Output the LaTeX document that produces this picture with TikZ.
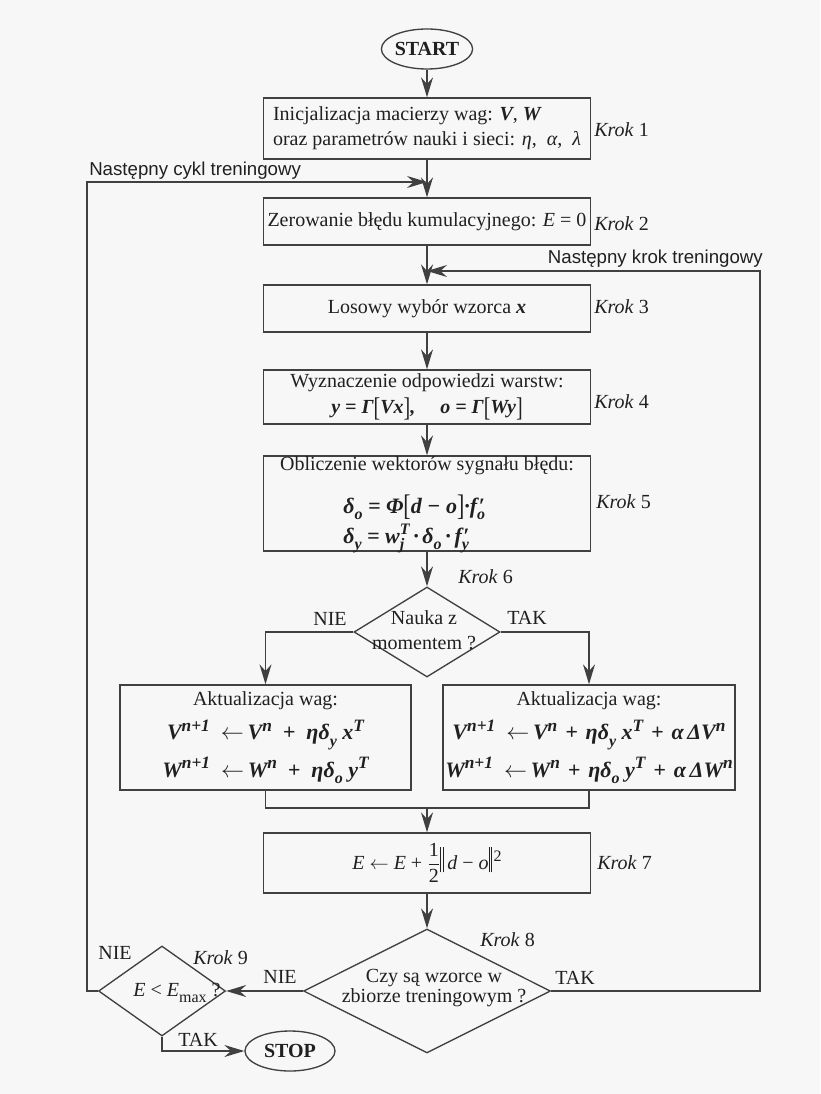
\documentclass[tikz,border=0pt]{standalone}
\usepackage{fontspec}
\usepackage{amsmath}
\usepackage{graphicx}
\setmainfont{Liberation Serif}
\newfontfamily\labelsans{Liberation Sans}
\usetikzlibrary{arrows.meta,shapes.geometric}

\definecolor{bgc}{HTML}{F7F7F7}
\definecolor{lnc}{HTML}{404040}
\definecolor{txc}{HTML}{202020}

% text sizes and small helpers for formulas set in the text font
\newcommand\bodyfont{\fontsize{15}{18.75}\selectfont}
\newcommand\SupT[1]{\raisebox{0.85ex}{\fontsize{12}{12}\selectfont #1}}
\newcommand\SupL[1]{\raisebox{0.8ex}{\fontsize{13}{13}\selectfont #1}}
\newcommand\SubT[1]{\raisebox{-0.6ex}{\fontsize{12}{12}\selectfont #1}}
\newcommand\SubSupT[2]{\setbox0\hbox{\SupT{#2}}\setbox2\hbox{\SubT{#1}}%
  \ifdim\wd0>\wd2 \rlap{\box2}\box0\else\rlap{\box0}\box2\fi}
\newcommand\PrSub[1]{\setbox0\hbox{\kern1pt′}\setbox2\hbox{\SubT{#1}}%
  \ifdim\wd0>\wd2 \rlap{\box2}\box0\else\rlap{\box0}\box2\fi}
\newcommand\BrL{{\mdseries\upshape\raisebox{-0.25ex}{\scalebox{1}[1.35]{[}}}}
\newcommand\BrR{{\mdseries\upshape\raisebox{-0.25ex}{\scalebox{1}[1.35]{]}}}}
\newcommand\Nrm{\rule[-0.3ex]{0.7pt}{2.7ex}\kern1.3pt\rule[-0.3ex]{0.7pt}{2.7ex}}
\newcommand\BI[1]{{\bfseries\itshape #1}}
\newcommand\BIL[1]{{\fontsize{16.5}{18.75}\selectfont\bfseries\itshape #1}}
\newcommand\LArr{\enspace$\leftarrow$\,}
\newcommand\Pl{\enspace+\enspace}
\newcommand\PlN{\hspace{0.36em}+\hspace{0.36em}}

\tikzset{
  flow/.style={draw=lnc, line width=1pt, line join=miter},
  arr/.style={flow, -{Stealth[length=15pt,width=9pt,inset=5pt]}},
  stepbox/.style={draw=lnc, line width=1pt, rectangle, inner sep=0pt,
    minimum width=245.25pt, align=center, text=txc, font=\bodyfont},
  term/.style={draw=lnc, line width=1pt, ellipse, inner sep=0pt,
    minimum width=67.5pt, minimum height=30pt, text=txc,
    font=\bodyfont\bfseries},
  decision/.style={draw=lnc, line width=1pt, diamond, inner sep=0pt},
  lbl/.style={text=txc, font=\bodyfont, inner sep=0pt},
  looplbl/.style={text=txc, font=\labelsans\fontsize{14}{16}\selectfont, inner sep=0pt}
}

\begin{document}
\begin{tikzpicture}[x=0.75pt,y=-0.75pt]
\fill[bgc] (0,0) rectangle (820,1094);
\useasboundingbox (0,0) rectangle (820,1094);

% terminals
\node[term] (start) at (427,49) {START};
\node[term] (stop) at (290,1051) {STOP};

% main column of steps
\node[stepbox, minimum height=45.75pt, align=left] (box1) at (427,128.5)
  {Inicjalizacja macierzy wag: \BI{V}, \BI{W}\\oraz parametrów nauki i sieci: \textit{η},\enspace\textit{α},\enspace\textit{λ}};
\node[stepbox, minimum height=35.25pt] (box2) at (427,221.5)
  {Zerowanie błędu kumulacyjnego: \textit{E} = 0};
\node[stepbox, minimum height=35.25pt] (box3) at (427,308.5)
  {Losowy wybór wzorca \BI{x}};
\node[stepbox, minimum height=40.5pt] (box4) at (427,397)
  {Wyznaczenie odpowiedzi warstw:\\[0.75pt]
   \BI{y = Γ\BrL Vx\BrR,\quad\ o = Γ\BrL Wy\BrR}};

% error signals: frame, heading and two left-aligned formulas
\node[stepbox, minimum height=71.25pt] (box5) at (427,503.5) {};
\node[lbl] (b5a) at (427,466) {Obliczenie wektorów sygnału błędu:};
\node[lbl, anchor=base west] (b5b) at (343,513)
  {\BIL{δ\SubT{o} = Φ\BrL d − o\BrR·f\PrSub{o}}};
\node[lbl, anchor=base west] (b5c) at (343,543)
  {\BIL{δ\SubT{y} = w\SubSupT{j}{T}\,·\,δ\SubT{o}\,·\,f\PrSub{y}}};

% decision on momentum
\node[decision, minimum width=109.5pt, minimum height=67.5pt] (d6) at (427,632) {};
\node[lbl, align=center] (d6t) at (424,630) {Nauka z\\momentem ?};

% weight updates
\node[stepbox, minimum width=218.25pt, minimum height=78.75pt] (upL) at (265.5,737.5)
  {Aktualizacja wag:\\[7pt]
   \BIL{V\SupL{n+1}\LArr V\SupL{n}\Pl ηδ\SubT{y}\ x\SupL{T}}\\[5pt]
   \BIL{W\SupL{n+1}\LArr W\SupL{n}\Pl ηδ\SubT{o}\ y\SupL{T}}};
\node[stepbox, minimum width=219pt, minimum height=78.75pt] (upR) at (589,737.5)
  {Aktualizacja wag:\\[7pt]
   \BIL{V\SupL{n+1}\LArr V\SupL{n}\PlN ηδ\SubT{y}\ x\SupL{T}\PlN α\,ΔV\SupL{n}}\\[5pt]
   \BIL{W\SupL{n+1}\LArr W\SupL{n}\PlN ηδ\SubT{o}\ y\SupL{T}\PlN α\,ΔW\SupL{n}}};

% cumulative error
\node[stepbox, minimum height=45pt] (box7) at (427,863)
  {\textit{E} $\leftarrow$ \textit{E} + $\dfrac{\text{1}}{\text{2}}$\Nrm\,\textit{d} − \textit{o}\Nrm\kern1pt\SupT{2}};

% remaining decisions
\node[decision, minimum width=185.25pt, minimum height=93pt] (d8) at (427,991) {};
\node[lbl, align=center, font=\fontsize{15}{15}\selectfont] (d8t) at (434,988)
  {Czy są wzorce w\\zbiorze treningowym ?};
\node[decision, minimum width=95.25pt, minimum height=67.5pt] (d9) at (162,991) {};
\node[lbl] (d9t) at (177,993) {\textit{E} < \textit{E}\SubT{max} ?};

% step labels
\node[lbl, anchor=west] (k1) at (594,130) {\textit{Krok} 1};
\node[lbl, anchor=west] (k2) at (594,224) {\textit{Krok} 2};
\node[lbl, anchor=west] (k3) at (594,307) {\textit{Krok} 3};
\node[lbl, anchor=west] (k4) at (594,402) {\textit{Krok} 4};
\node[lbl, anchor=west] (k5) at (596,502) {\textit{Krok} 5};
\node[lbl, anchor=west] (k6) at (458,577) {\textit{Krok} 6};
\node[lbl, anchor=west] (k7) at (597,863) {\textit{Krok} 7};
\node[lbl, anchor=west] (k8) at (480,940) {\textit{Krok} 8};
\node[lbl, anchor=west] (k9) at (193,958) {\textit{Krok} 9};

% branch labels
\node[lbl] (n6) at (330,619) {NIE};
\node[lbl] (t6) at (527,618) {TAK};
\node[lbl] (n8) at (280,977) {NIE};
\node[lbl] (t8) at (575,978) {TAK};
\node[lbl] (n9) at (115,953) {NIE};
\node[lbl] (t9) at (198,1040) {TAK};

% loop labels
\node[looplbl, anchor=west] (cyc) at (89,171) {Następny cykl treningowy};
\node[looplbl, anchor=east] (stp) at (763,259) {Następny krok treningowy};

% junction points of the loops
\coordinate (j1) at (427,182);
\coordinate (j2) at (427,271);
\coordinate (lx) at (87,0);
\coordinate (rx) at (760,0);
\coordinate (mg) at (427,808);

% connectors
\draw[arr] (start) -- (box1);
\draw[arr] (box1) -- (box2);
\draw[arr] (d9.west) -- (d9.west -| lx) -- (lx |- j1) -- (j1);
\draw[arr] (box2) -- (box3);
\draw[arr] (d8.east) -- (d8.east -| rx) -- (rx |- j2) -- (j2);
\draw[arr] (box3) -- (box4);
\draw[arr] (box4) -- (box5);
\draw[arr] (box5) -- (d6);
\draw[arr] (d6.west) -| (upL.north);
\draw[arr] (d6.east) -| (upR.north);
\draw[flow] (upL.south) |- (mg) -| (upR.south);
\draw[arr] (mg) -- (box7);
\draw[arr] (box7) -- (d8);
\draw[arr] (d8.west) -- (d9.east);
\draw[arr] (d9.south) |- (stop.west);
\end{tikzpicture}
\end{document}
